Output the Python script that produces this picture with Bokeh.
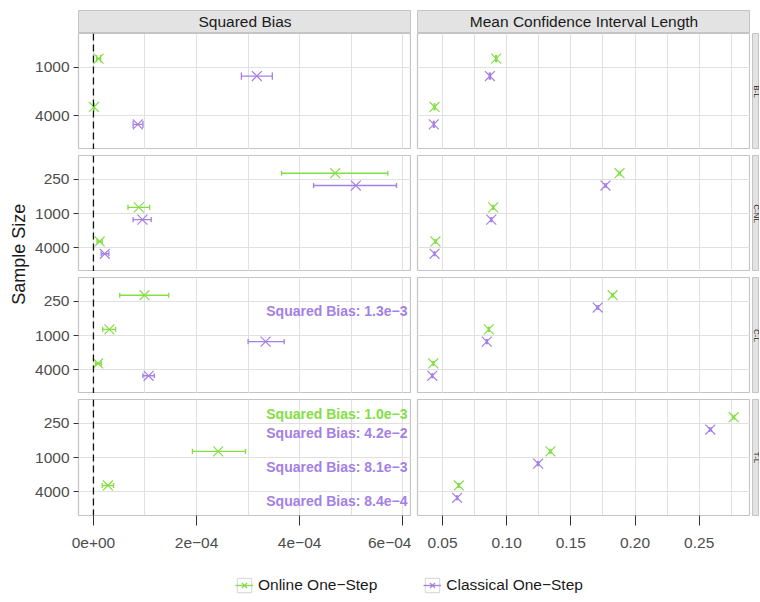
import math
from bokeh.plotting import figure
from bokeh.models import (FactorRange, Range1d, FixedTicker, Span, GridBox, Legend, LegendItem,
                          ColumnDataSource, NumeralTickFormatter)
from bokeh.transform import dodge
from bokeh.core.properties import value
from bokeh.embed import file_html
from bokeh.resources import INLINE

NAN = float("nan")

# ---------------- data ----------------
scenarios = ["B-L", "C-NL", "C-L", "T-L"]
scenario_sizes = [["1000", "4000"],
                  ["250", "1000", "4000"],
                  ["250", "1000", "4000"],
                  ["250", "1000", "4000"]]
methods = ["Online One\u2212Step", "Classical One\u2212Step"]
panel_titles = ["Squared Bias", "Mean Confidence Interval Length"]
y_title = "Sample Size"

# squared bias (estimate, lower, upper), aligned with scenario_sizes
bias_online = [[1.0e-5, 0.1e-5], [4.69e-4, 8.8e-5, 1.2e-5], [9.9e-5, 3.1e-5, 0.9e-5], [1.0e-3, 2.42e-4, 2.8e-5]]
bias_online_lo = [[0.6e-5, 0.05e-5], [3.65e-4, 6.7e-5, 0.7e-5], [5.1e-5, 1.8e-5, 0.4e-5], [NAN, 1.92e-4, 1.7e-5]]
bias_online_hi = [[1.4e-5, 0.15e-5], [5.71e-4, 1.09e-4, 1.7e-5], [1.46e-4, 4.3e-5, 1.5e-5], [NAN, 2.95e-4, 3.9e-5]]

bias_classical = [[3.17e-4, 8.6e-5], [5.09e-4, 9.5e-5, 2.2e-5], [1.3e-3, 3.34e-4, 1.07e-4], [4.2e-2, 8.1e-3, 8.4e-4]]
bias_classical_lo = [[2.87e-4, 7.7e-5], [4.27e-4, 7.7e-5, 1.5e-5], [NAN, 3.0e-4, 9.6e-5], [NAN, NAN, NAN]]
bias_classical_hi = [[3.47e-4, 9.6e-5], [5.88e-4, 1.12e-4, 3.0e-5], [NAN, 3.7e-4, 1.18e-4], [NAN, NAN, NAN]]

# mean confidence interval length (estimate, lower, upper)
ci_online = [[0.0918, 0.0438], [0.1879, 0.0895, 0.0445], [0.1826, 0.0861, 0.0428], [0.2769, 0.1341, 0.0627]]
ci_online_lo = [[0.0914, 0.0435], [0.1873, 0.0891, 0.0442], [0.1820, 0.0857, 0.0425], [0.2762, 0.1336, 0.0623]]
ci_online_hi = [[0.0922, 0.0441], [0.1885, 0.0899, 0.0448], [0.1832, 0.0865, 0.0431], [0.2776, 0.1346, 0.0631]]
ci_classical = [[0.0869, 0.0432], [0.1770, 0.0880, 0.0438], [0.1709, 0.0845, 0.0420], [0.2587, 0.1245, 0.0614]]
ci_classical_lo = [[0.0865, 0.0429], [0.1764, 0.0876, 0.0435], [0.1703, 0.0841, 0.0417], [0.2580, 0.1240, 0.0610]]
ci_classical_hi = [[0.0873, 0.0435], [0.1776, 0.0884, 0.0441], [0.1715, 0.0849, 0.0423], [0.2594, 0.1250, 0.0618]]

# axes
bias_range = (-2.9e-5, 6.17e-4)
bias_ticks = [0.0, 2e-4, 4e-4, 6e-4]
bias_tick_labels = ["0e+00", "2e\u221204", "4e\u221204", "6e\u221204"]
bias_minor = [1e-4, 3e-4, 5e-4]
ci_range = (0.0305, 0.29)
ci_ticks = [0.05, 0.10, 0.15, 0.20, 0.25]
ci_minor = [0.075, 0.125, 0.175, 0.225, 0.275]

# ---------------- style ----------------
GREEN = "#84DE45"
PURPLE = "#A47FE6"
colors = [GREEN, PURPLE]
FONT = "Liberation Sans"
GRID = "#E0E0E0"
BORDER = "#C4C4C4"
STRIP_FILL = "#E3E3E3"
TICK_TXT = "#4D4D4D"
DODGE = [0.18, -0.18]
LABEL_DODGE = [0.28, -0.28]
CAP = 0.075
MSIZE = 14

TITLE_W, LEFT_W, RIGHT_W, STRIP_W = 30, 381, 339, 9
LEFT_B, RIGHT_B = 48, 6
HEAD_H, HEAD_TOP = 33, 10
FRAME_H, GAP, BOTTOM_B = 116, 6, 44
LEG_H = 41


def sci_label(v):
    m, e = f"{v:.1e}".split("e")
    e = int(e)
    return f"Squared Bias: {m}e{'\u2212' if e < 0 else '+'}{abs(e)}"


def base_fig(width, height, xr, yr, left, top, bottom, xaxis, yaxis):
    p = figure(width=width, height=height, x_range=xr, y_range=yr,
               output_backend="svg", toolbar_location=None, tools="",
               min_border_left=left, min_border_right=0,
               min_border_top=top, min_border_bottom=bottom,
               x_axis_location="below" if xaxis else None,
               y_axis_location="left" if yaxis else None)
    p.outline_line_color = BORDER
    p.outline_line_width = 1.2
    p.background_fill_color = "white"
    p.border_fill_color = "white"
    p.xgrid.grid_line_color = GRID
    p.ygrid.grid_line_color = GRID
    p.xgrid.minor_grid_line_color = GRID
    for ax in p.xaxis + p.yaxis:
        ax.axis_line_color = None
        ax.major_tick_out = 5
        ax.major_tick_in = 0
        ax.minor_tick_line_color = None
        ax.major_tick_line_color = "#333333"
        ax.major_label_text_font = FONT
        ax.major_label_text_font_size = "15.5px"
        ax.major_label_text_color = TICK_TXT
        ax.major_label_standoff = 4
    for ax in p.xaxis:
        ax.major_tick_out = 10
        ax.major_label_standoff = 12
    return p


def strip_fig(width, height, left, top, bottom):
    s = figure(width=width, height=height, x_range=Range1d(0, 1), y_range=Range1d(0, 1),
               output_backend="svg", toolbar_location=None, tools="",
               min_border_left=left, min_border_right=0, min_border_top=top,
               min_border_bottom=bottom, x_axis_location=None, y_axis_location=None)
    s.grid.visible = False
    s.background_fill_color = STRIP_FILL
    s.border_fill_color = "white"
    s.outline_line_color = BORDER
    return s


children = []

# header strips
for ci, title in enumerate(panel_titles):
    w = LEFT_W if ci == 0 else RIGHT_W
    lb = LEFT_B if ci == 0 else RIGHT_B
    hp = strip_fig(w, HEAD_H, lb, HEAD_TOP, 1)
    hp.text(x=[0.5], y=[0.5], text=[title], text_align="center", text_baseline="middle",
            text_font=value(FONT), text_font_size="15.5px", text_color="#1A1A1A")
    children.append((hp, 0, ci + 1))

n_rows = len(scenarios)
for ri, scen in enumerate(scenarios):
    sizes = scenario_sizes[ri]
    top = 0 if ri == 0 else GAP
    bottom = BOTTOM_B if ri == n_rows - 1 else 0
    height = FRAME_H + top + bottom
    yr = FactorRange(factors=list(reversed(sizes)), range_padding=0.2, range_padding_units="absolute")
    last = ri == n_rows - 1

    # ---- squared bias panel ----
    pb = base_fig(LEFT_W, height, Range1d(*bias_range), yr, LEFT_B, top, bottom, last, True)
    pb.xgrid.ticker = FixedTicker(ticks=bias_ticks, minor_ticks=bias_minor)
    if last:
        pb.xaxis.ticker = FixedTicker(ticks=bias_ticks, minor_ticks=bias_minor)
        pb.xaxis.major_label_overrides = dict(zip(bias_ticks, bias_tick_labels))
    pb.add_layout(Span(location=0, dimension="height", line_color="#111111",
                       line_dash="7 4", line_width=1.3))
    series = [(bias_online[ri], bias_online_lo[ri], bias_online_hi[ri]),
              (bias_classical[ri], bias_classical_lo[ri], bias_classical_hi[ri])]
    for mi, (est, lo, hi) in enumerate(series):
        on = [i for i, v in enumerate(est) if v <= bias_range[1]]
        off = [i for i, v in enumerate(est) if v > bias_range[1]]
        src = ColumnDataSource(dict(size=[sizes[i] for i in on], est=[est[i] for i in on],
                                    lo=[lo[i] for i in on], hi=[hi[i] for i in on]))
        d = DODGE[mi]
        pb.segment(x0="lo", x1="hi", y0=dodge("size", d, range=yr), y1=dodge("size", d, range=yr),
                   source=src, line_color=colors[mi], line_width=1.3)
        for col in ("lo", "hi"):
            pb.segment(x0=col, x1=col, y0=dodge("size", d - CAP, range=yr),
                       y1=dodge("size", d + CAP, range=yr), source=src,
                       line_color=colors[mi], line_width=1.3)
        pb.scatter(x="est", y=dodge("size", d, range=yr), source=src, marker="x",
                   size=MSIZE, line_color=colors[mi], line_width=1.2)
        if off:
            lsrc = ColumnDataSource(dict(size=[sizes[i] for i in off],
                                         x=[bias_range[1]] * len(off),
                                         txt=[sci_label(est[i]) for i in off]))
            pb.text(x="x", y=dodge("size", LABEL_DODGE[mi], range=yr), text="txt", source=lsrc,
                    x_offset=-4, text_align="right", text_baseline="middle",
                    text_font=value(FONT), text_font_size="14px", text_font_style="bold",
                    text_color=colors[mi])
    children.append((pb, ri + 1, 1))

    # ---- CI length panel ----
    pc = base_fig(RIGHT_W, height, Range1d(*ci_range), yr, RIGHT_B, top, bottom, last, False)
    pc.xgrid.ticker = FixedTicker(ticks=ci_ticks, minor_ticks=ci_minor)
    if last:
        pc.xaxis.ticker = FixedTicker(ticks=ci_ticks, minor_ticks=ci_minor)
        pc.xaxis.formatter = NumeralTickFormatter(format="0.00")
    cseries = [(ci_online[ri], ci_online_lo[ri], ci_online_hi[ri]),
               (ci_classical[ri], ci_classical_lo[ri], ci_classical_hi[ri])]
    for mi, (est, lo, hi) in enumerate(cseries):
        src = ColumnDataSource(dict(size=sizes, est=est, lo=lo, hi=hi))
        d = DODGE[mi]
        pc.segment(x0="lo", x1="hi", y0=dodge("size", d, range=yr), y1=dodge("size", d, range=yr),
                   source=src, line_color=colors[mi], line_width=1.3)
        for col in ("lo", "hi"):
            pc.segment(x0=col, x1=col, y0=dodge("size", d - CAP, range=yr),
                       y1=dodge("size", d + CAP, range=yr), source=src,
                       line_color=colors[mi], line_width=1.3)
        pc.scatter(x="est", y=dodge("size", d, range=yr), source=src, marker="x",
                   size=MSIZE, line_color=colors[mi], line_width=1.2)
    children.append((pc, ri + 1, 2))

    # ---- right strip ----
    sp = strip_fig(STRIP_W, height, 2, top, bottom)
    sp.text(x=[0.5], y=[0.5], text=[scen], angle=-math.pi / 2, text_align="center",
            text_baseline="middle", text_font=value(FONT), text_font_size="8px",
            text_color="#1A1A1A")
    children.append((sp, ri + 1, 3))

# y title spanning the panel rows
total_h = FRAME_H * n_rows + GAP * (n_rows - 1) + BOTTOM_B
tp = figure(width=TITLE_W, height=total_h, x_range=Range1d(0, 1), y_range=Range1d(0, total_h),
            output_backend="svg", toolbar_location=None, tools="",
            min_border=0, x_axis_location=None, y_axis_location=None)
tp.grid.visible = False
tp.outline_line_color = None
tp.text(x=[0.6], y=[BOTTOM_B + (total_h - BOTTOM_B) / 2], text=[y_title], angle=math.pi / 2,
        text_align="center", text_baseline="middle", text_font=value(FONT),
        text_font_size="18px", text_color="#1A1A1A")
children.append((tp, 1, 0, n_rows, 1))

# legend row (legend glyph renderers hold one point outside the visible range)
lp = figure(width=TITLE_W + LEFT_W + RIGHT_W + STRIP_W, height=LEG_H, x_range=Range1d(0, 1),
            y_range=Range1d(0, 1), output_backend="svg", toolbar_location=None, tools="",
            min_border=0, x_axis_location=None, y_axis_location=None)
lp.grid.visible = False
lp.outline_line_color = None
items = []
for mi, name in enumerate(methods):
    r_box = lp.quad(left=[-3], right=[-2], bottom=[-3], top=[-2], fill_color="white",
                    line_color="#D4D4D4", line_width=1)
    r_line = lp.segment(x0=[-3], x1=[-2], y0=[-3], y1=[-3], line_color=colors[mi], line_width=1.3)
    r_pt = lp.scatter(x=[-3], y=[-3], marker="x", size=MSIZE, line_color=colors[mi], line_width=1.2)
    items.append(LegendItem(label=name, renderers=[r_box, r_line, r_pt]))
legend = Legend(items=items, orientation="horizontal", location=(235, 6),
                border_line_color=None, background_fill_alpha=0,
                label_text_font=FONT, label_text_font_size="15.5px", label_text_color="#1A1A1A",
                glyph_width=18, glyph_height=18, label_standoff=5, spacing=46,
                padding=0, margin=0)
lp.add_layout(legend)
children.append((lp, n_rows + 1, 0, 1, 4))

grid = GridBox(children=children, spacing=0)

open("out.html", "w").write(file_html(grid, INLINE))
